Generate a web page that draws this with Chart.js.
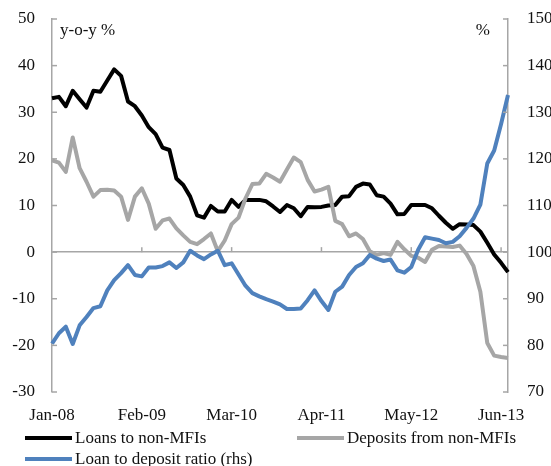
<!DOCTYPE html>
<html>
<head>
<meta charset="utf-8">
<script src="https://cdn.jsdelivr.net/npm/chart.js@4.4.1/dist/chart.umd.min.js"></script>
<style>
  html, body { margin:0; padding:0; background:#fff; }
  #wrap { position:relative; width:551px; height:466px; }
  #c { position:absolute; left:0; top:0; }
  .lg { position:absolute; display:flex; align-items:center; font-family:"Liberation Serif", serif; font-size:17px; color:#111; white-space:nowrap; }
  .sw { width:47px; height:4px; margin-right:3px; }
</style>
</head>
<body>
<div id="wrap">
  <canvas id="c" width="551" height="466"></canvas>
</div>
<script>
const categories = [
  'Jan-08','Feb-08','Mar-08','Apr-08','May-08','Jun-08','Jul-08','Aug-08','Sep-08','Oct-08','Nov-08','Dec-08',
  'Jan-09','Feb-09','Mar-09','Apr-09','May-09','Jun-09','Jul-09','Aug-09','Sep-09','Oct-09','Nov-09','Dec-09',
  'Jan-10','Feb-10','Mar-10','Apr-10','May-10','Jun-10','Jul-10','Aug-10','Sep-10','Oct-10','Nov-10','Dec-10',
  'Jan-11','Feb-11','Mar-11','Apr-11','May-11','Jun-11','Jul-11','Aug-11','Sep-11','Oct-11','Nov-11','Dec-11',
  'Jan-12','Feb-12','Mar-12','Apr-12','May-12','Jun-12','Jul-12','Aug-12','Sep-12','Oct-12','Nov-12','Dec-12',
  'Jan-13','Feb-13','Mar-13','Apr-13','May-13','Jun-13','Jul-13'
];
const tickLabels = ['Jan-08','Feb-09','Mar-10','Apr-11','May-12','Jun-13'];

const loansNonMFI = [
  33.0, 33.3, 31.3, 34.6, 32.8, 31.0, 34.6, 34.4, 36.8, 39.2, 37.8, 32.3,
  31.3, 29.3, 26.8, 25.3, 22.4, 21.9, 15.8, 14.4, 11.9, 7.9, 7.4, 9.9,
  8.7, 8.7, 11.2, 9.7, 11.2, 11.2, 11.2, 10.9, 9.8, 8.6, 10.1, 9.4,
  7.7, 9.7, 9.6, 9.7, 10.0, 10.1, 11.9, 12.0, 14.0, 14.7, 14.5, 12.2,
  11.9, 10.4, 8.1, 8.2, 10.1, 10.1, 10.1, 9.4, 7.8, 6.3, 5.0, 6.0,
  5.9, 5.8, 4.4, 2.0, -0.5, -2.3, -4.3
];
const depositsNonMFI = [
  19.7, 19.2, 17.2, 24.6, 18.0, 15.1, 11.9, 13.3, 13.4, 13.2, 11.9, 6.9,
  11.9, 13.7, 10.4, 5.0, 6.8, 7.2, 5.1, 3.6, 2.2, 1.7, 2.8, 4.0,
  0.2, 2.5, 6.0, 7.4, 11.5, 14.6, 14.7, 16.8, 16.0, 15.1, 17.7, 20.3,
  19.3, 15.5, 13.0, 13.4, 14.0, 6.7, 6.0, 3.4, 4.0, 2.8, 0.2, -0.6,
  -0.2, -0.6, 2.2, 0.6, -0.8, -1.2, -2.1, 0.5, 1.3, 1.2, 1.1, 1.4,
  -0.4, -3.0, -8.5, -19.5, -22.2, -22.5, -22.7
];
const loanDepositRatio = [
  80.4, 82.6, 84.0, 80.3, 84.3, 86.1, 88.0, 88.4, 91.8, 94.0, 95.5, 97.2,
  95.1, 94.8, 96.7, 96.7, 97.0, 97.8, 96.6, 97.8, 100.3, 99.3, 98.5, 99.5,
  100.3, 97.2, 97.6, 95.2, 92.8, 91.2, 90.5, 89.9, 89.4, 88.8, 87.8, 87.8,
  87.9, 89.7, 91.8, 89.5, 87.6, 91.5, 92.6, 95.1, 96.8, 97.6, 99.4, 98.6,
  98.1, 98.4, 96.1, 95.6, 96.8, 100.5, 103.2, 102.9, 102.6, 101.9, 102.2, 103.4,
  105.2, 107.2, 110.2, 119.0, 121.8, 127.5, 133.7
];

const FONT = { family: '"Liberation Serif", "Times New Roman", serif', size: 17 };
const AXIS_GREY = '#a6a6a6';

const extras = {
  id: 'extras',
  afterDraw(chart) {
    const ctx = chart.ctx;
    const ca = chart.chartArea;
    const y = chart.scales.y, y1 = chart.scales.y1, x = chart.scales.x;
    ctx.save();
    ctx.strokeStyle = AXIS_GREY;
    ctx.lineWidth = 1.5;
    y.ticks.forEach(t => {
      const py = y.getPixelForValue(t.value);
      ctx.beginPath(); ctx.moveTo(ca.left, py); ctx.lineTo(ca.left + 5, py); ctx.stroke();
    });
    y1.ticks.forEach(t => {
      const py = y1.getPixelForValue(t.value);
      ctx.beginPath(); ctx.moveTo(ca.right, py); ctx.lineTo(ca.right - 5, py); ctx.stroke();
    });
    const zy = y.getPixelForValue(0);
    categories.forEach((c, i) => {
      if (i > 0 && tickLabels.includes(c)) {
        const px = x.getPixelForValue(i);
        ctx.beginPath(); ctx.moveTo(px, zy); ctx.lineTo(px, zy - 5); ctx.stroke();
      }
    });
    ctx.fillStyle = '#111';
    ctx.font = FONT.size + 'px ' + FONT.family;
    ctx.textBaseline = 'middle';
    ctx.textAlign = 'left';
    ctx.fillText('y-o-y %', ca.left + 8, ca.top + 12);
    ctx.textAlign = 'right';
    ctx.fillText('%', ca.right - 18, ca.top + 12);
    ctx.restore();
  }
};

function fixVertical(width) {
  return function (s) { s.width = width; s.paddingTop = 0; s.paddingBottom = 0; };
}

const chart = new Chart(document.getElementById('c'), {
  type: 'line',
  data: {
    labels: categories,
    datasets: [
      { label: 'Loans to non-MFIs', data: loansNonMFI, borderColor: '#000000', backgroundColor: '#000000', yAxisID: 'y', order: 3 },
      { label: 'Deposits from non-MFIs', data: depositsNonMFI, borderColor: '#a6a6a6', backgroundColor: '#a6a6a6', yAxisID: 'y', order: 2 },
      { label: 'Loan to deposit ratio (rhs)', data: loanDepositRatio, borderColor: '#4f81bd', backgroundColor: '#4f81bd', yAxisID: 'y1', order: 1 }
    ]
  },
  options: {
    responsive: false,
    animation: false,
    devicePixelRatio: 1,
    layout: { padding: { top: 19, left: 0, right: 0, bottom: 0 } },
    elements: {
      point: { radius: 0 },
      line: { borderWidth: 4, tension: 0, borderCapStyle: 'butt', borderJoinStyle: 'round' }
    },
    plugins: { legend: { display: false }, tooltip: { enabled: false } },
    scales: {
      x: {
        type: 'category',
        offset: false,
        grid: { display: false },
        border: { display: false },
        afterFit(s) { s.height = 74; },
        ticks: {
          autoSkip: false, maxRotation: 0, minRotation: 0, padding: 5,
          color: '#111', font: FONT,
          callback(v, i) { return tickLabels.includes(categories[i]) ? categories[i] : ''; }
        }
      },
      y: {
        position: 'left', min: -30, max: 50,
        afterFit: fixVertical(52),
        grid: {
          drawTicks: false,
          color: (c) => (c.tick && c.tick.value === 0) ? AXIS_GREY : 'rgba(0,0,0,0)',
          lineWidth: 1.5
        },
        border: { display: true, color: AXIS_GREY, width: 1.5 },
        ticks: { stepSize: 10, padding: 17, color: '#111', font: FONT }
      },
      y1: {
        position: 'right', min: 70, max: 150,
        afterFit: fixVertical(43),
        grid: { drawOnChartArea: false, drawTicks: false },
        border: { display: true, color: AXIS_GREY, width: 1.5 },
        ticks: { stepSize: 10, padding: 19, color: '#111', font: FONT }
      }
    }
  },
  plugins: [extras]
});

const legendSlots = [
  { left: 25, top: 428 },
  { left: 297, top: 428 },
  { left: 25, top: 449 }
];
const wrap = document.getElementById('wrap');
chart.data.datasets.forEach((ds, i) => {
  const item = document.createElement('div');
  item.className = 'lg';
  item.style.left = legendSlots[i].left + 'px';
  item.style.top = legendSlots[i].top + 'px';
  const sw = document.createElement('div');
  sw.className = 'sw';
  sw.style.background = ds.borderColor;
  const tx = document.createElement('span');
  tx.textContent = ds.label;
  item.appendChild(sw); item.appendChild(tx);
  wrap.appendChild(item);
});
</script>
</body>
</html>
